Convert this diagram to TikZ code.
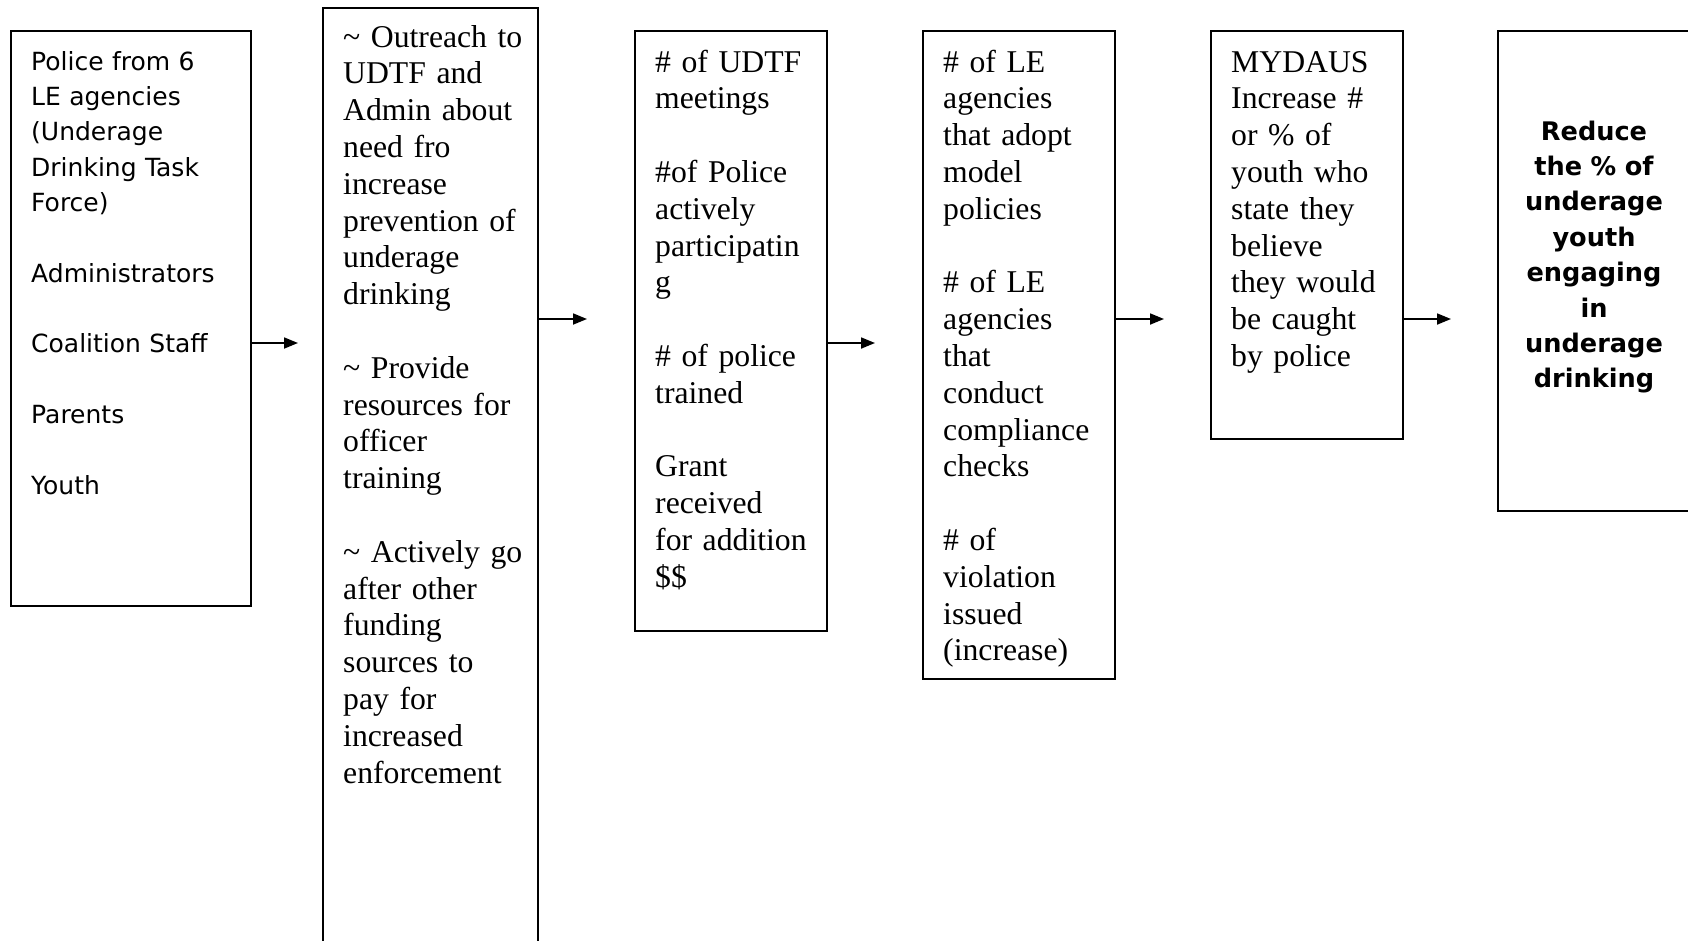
\documentclass[tikz,border=0pt]{standalone}
\usepackage{fontspec}
\setmainfont{Liberation Serif}
\setsansfont{DejaVu Sans}
\usetikzlibrary{arrows.meta}
\begin{document}
\begin{tikzpicture}[x=1pt,y=-1pt,
  frame/.style={draw, line width=2pt, rectangle, anchor=north west, outer sep=0pt, inner sep=0pt},
  flow/.style={line width=1.8pt, -{Triangle[length=14pt,width=11pt]}},
  serifbody/.style={anchor=base west, align=left, inner sep=0pt, text width=190pt,
    font=\fontsize{31.7}{36.8}\selectfont},
  sansbody/.style={anchor=base west, align=left, inner sep=0pt, text width=230pt,
    font=\sffamily\fontsize{25}{35.35}\selectfont},
  goalbody/.style={anchor=base, align=center, inner sep=0pt, text width=190pt,
    font=\sffamily\bfseries\fontsize{25.6}{35.4}\selectfont},
]
\useasboundingbox (0,0) rectangle (1688,940);
\clip (0,0) rectangle (1688,940);

% columns of the logic model
\node[frame, minimum width=240pt, minimum height=575pt] (inputs)   at (11,31)   {};
\node[frame, minimum width=215pt, minimum height=960pt] (acts)     at (323,7.5) {};
\node[frame, minimum width=192pt, minimum height=600pt] (outputs)  at (635,31)  {};
\node[frame, minimum width=192pt, minimum height=648pt] (shortterm) at (923,31) {};
\node[frame, minimum width=192pt, minimum height=408pt] (midterm)  at (1211,31) {};
\node[frame, minimum width=200pt, minimum height=480pt] (goal)     at (1498,31) {};

% column texts
\node[sansbody] (inputstext) at (31,70) {Police from 6\\ LE agencies\\ (Underage\\ Drinking Task\\ Force)\\[35.35pt]
Administrators\\[35.35pt] Coalition Staff\\[35.35pt] Parents\\[35.35pt] Youth};

\node[serifbody] (actstext) at (343,47) {\textasciitilde{} Outreach to\\ UDTF and\\ Admin about\\ need fro\\ increase\\ prevention of\\ underage\\ drinking\\[36.8pt]
\textasciitilde{} Provide\\ resources for\\ officer\\ training\\[36.8pt]
\textasciitilde{} Actively go\\ after other\\ funding\\ sources to\\ pay for\\ increased\\ enforcement};

\node[serifbody] (outputstext) at (655,72) {\# of UDTF\\ meetings\\[36.8pt]
\#of Police\\ actively\\ participatin\\ g\\[36.8pt]
\# of police\\ trained\\[36.8pt]
Grant\\ received\\ for addition\\ \$\$};

\node[serifbody] (shorttext) at (943,72) {\# of LE\\ agencies\\ that adopt\\ model\\ policies\\[36.8pt]
\# of LE\\ agencies\\ that\\ conduct\\ compliance\\ checks\\[36.8pt]
\# of\\ violation\\ issued\\ (increase)};

\node[serifbody] (midtext) at (1231,72) {MYDAUS\\ Increase \#\\ or \% of\\ youth who\\ state they\\ believe\\ they would\\ be caught\\ by police};

\node[goalbody] (goaltext) at (1594,140) {Reduce\\ the \% of\\ underage\\ youth\\ engaging\\ in\\ underage\\ drinking};

% arrows between columns
\coordinate (t1) at (298,343);
\coordinate (t2) at (587,319);
\coordinate (t3) at (875,343);
\coordinate (t4) at (1164,319);
\coordinate (t5) at (1451,319);
\draw[flow] (inputs.east |- t1) -- (t1);
\draw[flow] (acts.east |- t2) -- (t2);
\draw[flow] (outputs.east |- t3) -- (t3);
\draw[flow] (shortterm.east |- t4) -- (t4);
\draw[flow] (midterm.east |- t5) -- (t5);
\end{tikzpicture}
\end{document}
